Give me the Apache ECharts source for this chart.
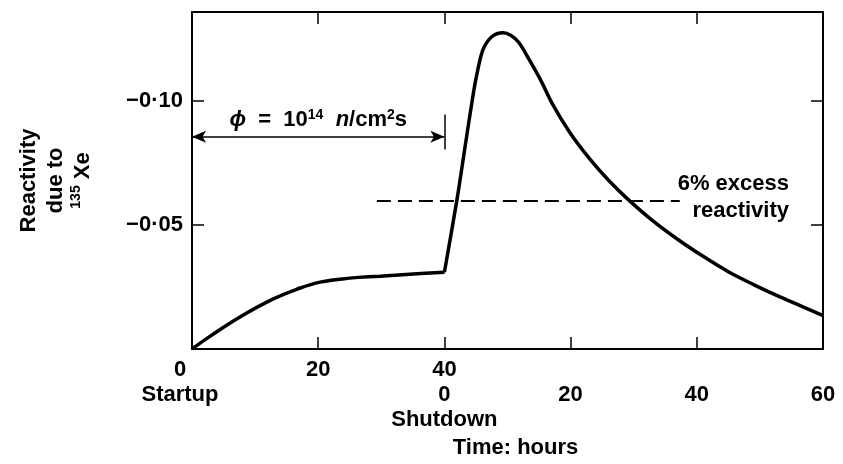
<!DOCTYPE html>
<html>
<head>
<meta charset="utf-8">
<script src="https://cdn.jsdelivr.net/npm/echarts@6/dist/echarts.min.js"></script>
<style>
html, body { margin: 0; padding: 0; background: #fff; }
#main { width: 843px; height: 464px; }
</style>
</head>
<body>
<div id="main"></div>
<script>
// 横轴刻度：0-40 h 运行，40 h 停堆，之后为停堆后的小时数
const xTicks = [0, 20, 40, 60, 80, 100];
const xTickLabels = ['0\nStartup', '20', '40\n0\nShutdown', '\n20', '\n40', '\n60'];
const yTicks = [-0.10, -0.05];
const yTickLabels = ['−0·10', '−0·05'];

// 运行阶段 135Xe 反应性
const startupHours = [0, 2.9, 7.6, 12.8, 16.6, 20.3, 25, 29.8, 34.5, 40];
const startupReactivity = [0, -0.0052, -0.0129, -0.0201, -0.0241, -0.027, -0.0286, -0.0294, -0.0302, -0.031];

// 停堆后（碘坑）
const shutdownHours = [40, 42, 43.3, 44.5, 45.2, 46.1, 47.5, 49.3, 50.5, 51.8, 53.4, 55.2, 57.2, 59.9, 63.1, 66.2, 69.1, 73, 77, 81, 85, 89, 93, 97, 100];
const shutdownReactivity = [-0.031, -0.0604, -0.082, -0.1018, -0.1115, -0.1207, -0.126, -0.1276, -0.1266, -0.1237, -0.117, -0.1088, -0.0985, -0.0873, -0.0765, -0.0676, -0.0604, -0.0518, -0.0442, -0.0374, -0.0312, -0.026, -0.0212, -0.0168, -0.0135];

// 注释
const fluxSpan = [0, 40];
const fluxArrowLevel = -0.0857;
const fluxBar = [-0.0946, -0.0805];
const excessLevel = -0.06;
const excessSpan = [29.3, 77.3];

const chart = echarts.init(document.getElementById('main'));
const font = 'Liberation Sans';
const zip = (xs, ys) => xs.map((x, i) => [x, ys[i]]);

const yMin = -0.136;
const frameLine = { onZero: false, lineStyle: { color: '#000', width: 2 } };
const tickStyle = { color: '#000', width: 1.5 };

chart.setOption({
    animation: false,
    backgroundColor: '#fff',
    textStyle: { fontFamily: font, color: '#000' },
    grid: { left: 192, right: 20, top: 12, bottom: 114 },
    xAxis: [{
        type: 'value',
        min: 0, max: 100, interval: 20,
        axisLine: frameLine,
        axisTick: { inside: true, length: 12, lineStyle: tickStyle },
        splitLine: { show: false },
        axisLabel: {
            color: '#000', fontSize: 22, fontWeight: 'bold', lineHeight: 25, margin: 8,
            formatter: function (v) {
                const i = xTicks.indexOf(v);
                if (i === 0) return xTickLabels[0].split('\n').map(s => '{l|' + s + '}').join('\n');
                return i >= 0 ? xTickLabels[i] : '';
            },
            rich: { l: { fontSize: 22, fontWeight: 'bold', lineHeight: 25, padding: [0, 24, 0, 0] } }
        },
        name: 'Time: hours',
        nameLocation: 'middle',
        nameGap: 88,
        nameTextStyle: { color: '#000', fontSize: 22, fontWeight: 'bold', padding: [0, 0, 0, 16] }
    }, {
        type: 'value',
        position: 'top',
        min: 0, max: 100, interval: 20,
        axisLine: frameLine,
        axisTick: { inside: true, length: 12, lineStyle: tickStyle },
        axisLabel: { show: false },
        splitLine: { show: false }
    }],
    yAxis: [{
        type: 'value',
        inverse: true,
        min: yMin, max: 0,
        axisLine: Object.assign({ show: true }, frameLine),
        axisTick: { show: true, inside: true, length: 12, customValues: yTicks, lineStyle: tickStyle },
        splitLine: { show: false },
        axisLabel: {
            color: '#000', fontSize: 22, fontWeight: 'bold', margin: 9,
            customValues: yTicks,
            formatter: function (v) {
                const i = yTicks.findIndex(t => Math.abs(t - v) < 1e-6);
                return i >= 0 ? yTickLabels[i] : '';
            }
        },
        name: 'Reactivity\ndue to\n{sup|135} Xe',
        nameLocation: 'middle',
        nameRotate: 90,
        nameGap: 96,
        nameTextStyle: {
            color: '#000', fontSize: 22, fontWeight: 'bold', lineHeight: 27, align: 'center',
            rich: { sup: { fontSize: 14, fontWeight: 'bold', verticalAlign: 'top', lineHeight: 27 } }
        }
    }, {
        type: 'value',
        position: 'right',
        inverse: true,
        min: yMin, max: 0,
        axisLine: Object.assign({ show: true }, frameLine),
        axisTick: { show: true, inside: true, length: 12, customValues: yTicks, lineStyle: tickStyle },
        axisLabel: { show: false },
        splitLine: { show: false }
    }],
    series: [{
        name: 'startup',
        type: 'line',
        data: zip(startupHours, startupReactivity),
        smooth: 0.4,
        showSymbol: false,
        lineStyle: { color: '#000', width: 3.5 },
        markLine: {
            silent: true,
            symbol: ['arrow', 'arrow'],
            symbolSize: [9, 14],
            lineStyle: { color: '#000', width: 1.5, type: 'solid' },
            label: {
                show: true,
                position: 'insideMiddleTop',
                distance: 6,
                color: '#000',
                fontSize: 22,
                fontWeight: 'bold',
                formatter: '{i|ϕ}  =  10{sup|14}  {i|n}/cm{sup|2}s',
                rich: {
                    i: { fontSize: 22, fontWeight: 'bold', fontStyle: 'italic', fontFamily: font },
                    sup: { fontSize: 14, fontWeight: 'bold', verticalAlign: 'top', fontFamily: font }
                }
            },
            data: [[{ coord: [fluxSpan[0], fluxArrowLevel] }, { coord: [fluxSpan[1], fluxArrowLevel] }]]
        }
    }, {
        name: 'shutdown',
        type: 'line',
        xAxisIndex: 1,
        yAxisIndex: 1,
        data: zip(shutdownHours, shutdownReactivity),
        smooth: 0.3,
        showSymbol: false,
        lineStyle: { color: '#000', width: 3.5 },
        markLine: {
            silent: true,
            symbol: 'none',
            label: { show: false },
            data: [
                [{ coord: [fluxSpan[1], fluxBar[0]], lineStyle: { color: '#000', width: 1.5, type: 'solid' } },
                 { coord: [fluxSpan[1], fluxBar[1]] }],
                [{ coord: [excessSpan[0], excessLevel], lineStyle: { color: '#000', width: 2, type: [14, 7] } },
                 { coord: [excessSpan[1], excessLevel] }]
            ]
        }
    }],
    graphic: [{
        type: 'text',
        x: 789,
        y: 197,
        style: {
            text: '6% excess\nreactivity',
            fill: '#000',
            font: 'bold 22px "Liberation Sans"',
            textAlign: 'right',
            textVerticalAlign: 'middle',
            lineHeight: 27
        }
    }]
});

window.addEventListener('resize', function () {
    chart.resize();
});
</script>
</body>
</html>
